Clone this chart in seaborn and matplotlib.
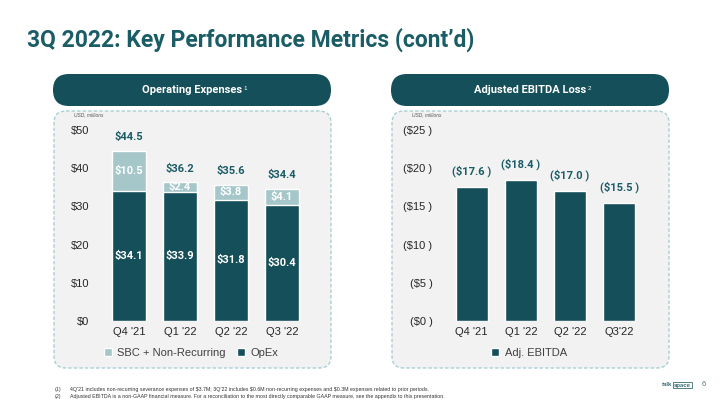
import numpy as np
import matplotlib
matplotlib.use("Agg")
import matplotlib.pyplot as plt
import seaborn as sns
from matplotlib.patches import FancyBboxPatch, Patch

# data
quarters_opex = ["Q4 '21", "Q1 '22", "Q2 '22", "Q3 '22"]
opex = [34.1, 33.9, 31.8, 30.4]
sbc = [10.5, 2.4, 3.8, 4.1]
opex_totals = [44.5, 36.2, 35.6, 34.4]
opex_yticks = [0, 10, 20, 30, 40, 50]

quarters_ebitda = ["Q4 '21", "Q1 '22", "Q2 '22", "Q3'22"]
ebitda_loss = [17.6, 18.4, 17.0, 15.5]
ebitda_yticks = [0, 5, 10, 15, 20, 25]

DARK = "#154f59"
LIGHT = "#a5c7ca"
TEAL_TXT = "#1b5d66"
BOX_BG = "#f2f2f2"
BOX_EDGE = "#a9cfd3"

sns.set_theme(style="white")
plt.rcParams["font.family"] = ["Liberation Sans", "DejaVu Sans"]

W, H = 720, 405
fig = plt.figure(figsize=(7.2, 4.05), dpi=100)
fig.patch.set_facecolor("white")

# background layer in pixel coords
bg = fig.add_axes([0, 0, 1, 1], zorder=0)
bg.set_xlim(0, W)
bg.set_ylim(H, 0)
bg.axis("off")

bg.text(27, 40, "3Q 2022: Key Performance Metrics (cont\u2019d)", fontsize=16.5,
        fontweight="bold", color=TEAL_TXT, family="Roboto", va="center", ha="left")

def panel(x0, x1, title, sup):
    bg.add_patch(FancyBboxPatch((x0, 74), x1 - x0, 32,
                                boxstyle="round,pad=0,rounding_size=16",
                                fc=DARK, ec="none"))
    t = bg.text((x0 + x1) / 2, 90, title, color="white", fontsize=8,
                fontweight="bold", family="Roboto", ha="center", va="center")
    bg.annotate(sup, xy=(1, 1), xycoords=t, xytext=(0.8, -1), textcoords="offset points",
                color="white", fontsize=4.5, ha="left", va="top")
    bg.add_patch(FancyBboxPatch((x0 + 1, 111), x1 - x0 - 1, 257,
                                boxstyle="round,pad=0,rounding_size=12",
                                fc=BOX_BG, ec=BOX_EDGE, lw=1, ls=(0, (2.5, 1.5))))
    bg.text(x0 + 21, 115, "USD, millions", fontsize=3.5, style="italic",
            color="#555555", ha="left", va="center")

panel(53, 331, "Operating Expenses", "1")
panel(391, 669, "Adjusted EBITDA Loss", "2")

# footnotes
bg.text(55, 389.5, "(1)", fontsize=3.8, color="#333333", va="center")
bg.text(70, 389.5, "4Q\u201921 includes non-recurring severance expenses of $3.7M; 3Q\u201922 includes $0.6M "
        "non-recurring expenses and $0.3M expenses related to prior periods.",
        fontsize=3.8, color="#333333", va="center")
bg.text(55, 396.5, "(2)", fontsize=3.8, color="#333333", va="center")
bg.text(70, 396.5, "Adjusted EBITDA is a non-GAAP financial measure. For a reconciliation to the most "
        "directly comparable GAAP measure, see the appendix to this presentation.",
        fontsize=3.8, color="#333333", va="center")
lt = bg.text(662, 385, "talk", fontsize=4.3, fontweight="bold", color="#3d6e75", va="center", ha="left")
bg.annotate("space", xy=(1, 0.5), xycoords=lt, xytext=(1.2, 0), textcoords="offset points",
            fontsize=4.3, fontweight="bold", color="#3d6e75", va="center", ha="left",
            bbox=dict(boxstyle="square,pad=0.15", fc="white", ec="#3d6e75", lw=0.6))
bg.text(704, 385, "6", fontsize=5.5, color="#557a80", va="center", ha="center")

def style_axis(ax):
    ax.set_facecolor("none")
    for s in ax.spines.values():
        s.set_visible(False)
    ax.tick_params(axis="both", length=0, labelsize=8, colors="#262626")
    ax.tick_params(axis="y", pad=10.5)
    ax.tick_params(axis="x", pad=4)
    ax.set_xlabel("")
    ax.set_ylabel("")
    ax.set_xlim(-0.5, 3.5)

# left chart: stacked opex
axL = fig.add_axes([103.5 / W, (H - 321) / H, 204 / W, 191 / H], zorder=2)
stack_top = [o + s for o, s in zip(opex, sbc)]
sns.barplot(x=quarters_opex, y=stack_top, color=LIGHT, saturation=1, width=0.65, ax=axL)
sns.barplot(x=quarters_opex, y=opex, color=DARK, saturation=1, width=0.65, ax=axL)
axL.set_ylim(0, 50)
axL.set_yticks(opex_yticks)
axL.set_yticklabels([f"${v}" for v in opex_yticks])
style_axis(axL)
for i in range(len(opex)):
    axL.text(i, opex[i] / 2, f"${opex[i]:.1f}", color="white", fontsize=8,
             fontweight="bold", family="Roboto", ha="center", va="center")
    axL.text(i, opex[i] + sbc[i] / 2, f"${sbc[i]:.1f}", color="white", fontsize=8,
             fontweight="bold", family="Roboto", ha="center", va="center")
    axL.text(i, stack_top[i] + 2.3, f"${opex_totals[i]:.1f}", color=TEAL_TXT, fontsize=8,
             fontweight="bold", family="Roboto", ha="center", va="bottom", clip_on=False)
axL.legend(handles=[Patch(fc=LIGHT, label="SBC + Non-Recurring"), Patch(fc=DARK, label="OpEx")],
           loc="center", bbox_to_anchor=(0.43, -0.168), ncol=2, frameon=False, fontsize=8,
           handlelength=0.7, handleheight=0.7, handletextpad=0.5, columnspacing=1.0,
           labelcolor="#404040")

# right chart: adjusted EBITDA loss
axR = fig.add_axes([447 / W, (H - 321) / H, 197 / W, 191 / H], zorder=2)
sns.barplot(x=quarters_ebitda, y=ebitda_loss, color=DARK, saturation=1, width=0.65, ax=axR)
axR.set_ylim(0, 25)
axR.set_yticks(ebitda_yticks)
axR.set_yticklabels([f"(${v} )" for v in ebitda_yticks])
style_axis(axR)
for i, v in enumerate(ebitda_loss):
    axR.text(i, v + 1.3, f"(${v:.1f} )", color=TEAL_TXT, fontsize=8,
             fontweight="bold", family="Roboto", ha="center", va="bottom", clip_on=False)
axR.legend(handles=[Patch(fc=DARK, label="Adj. EBITDA")],
           loc="center", bbox_to_anchor=(0.416, -0.168), frameon=False, fontsize=8,
           handlelength=0.7, handleheight=0.7, handletextpad=0.5, labelcolor="#404040")

fig.savefig("out.png", dpi=100)
